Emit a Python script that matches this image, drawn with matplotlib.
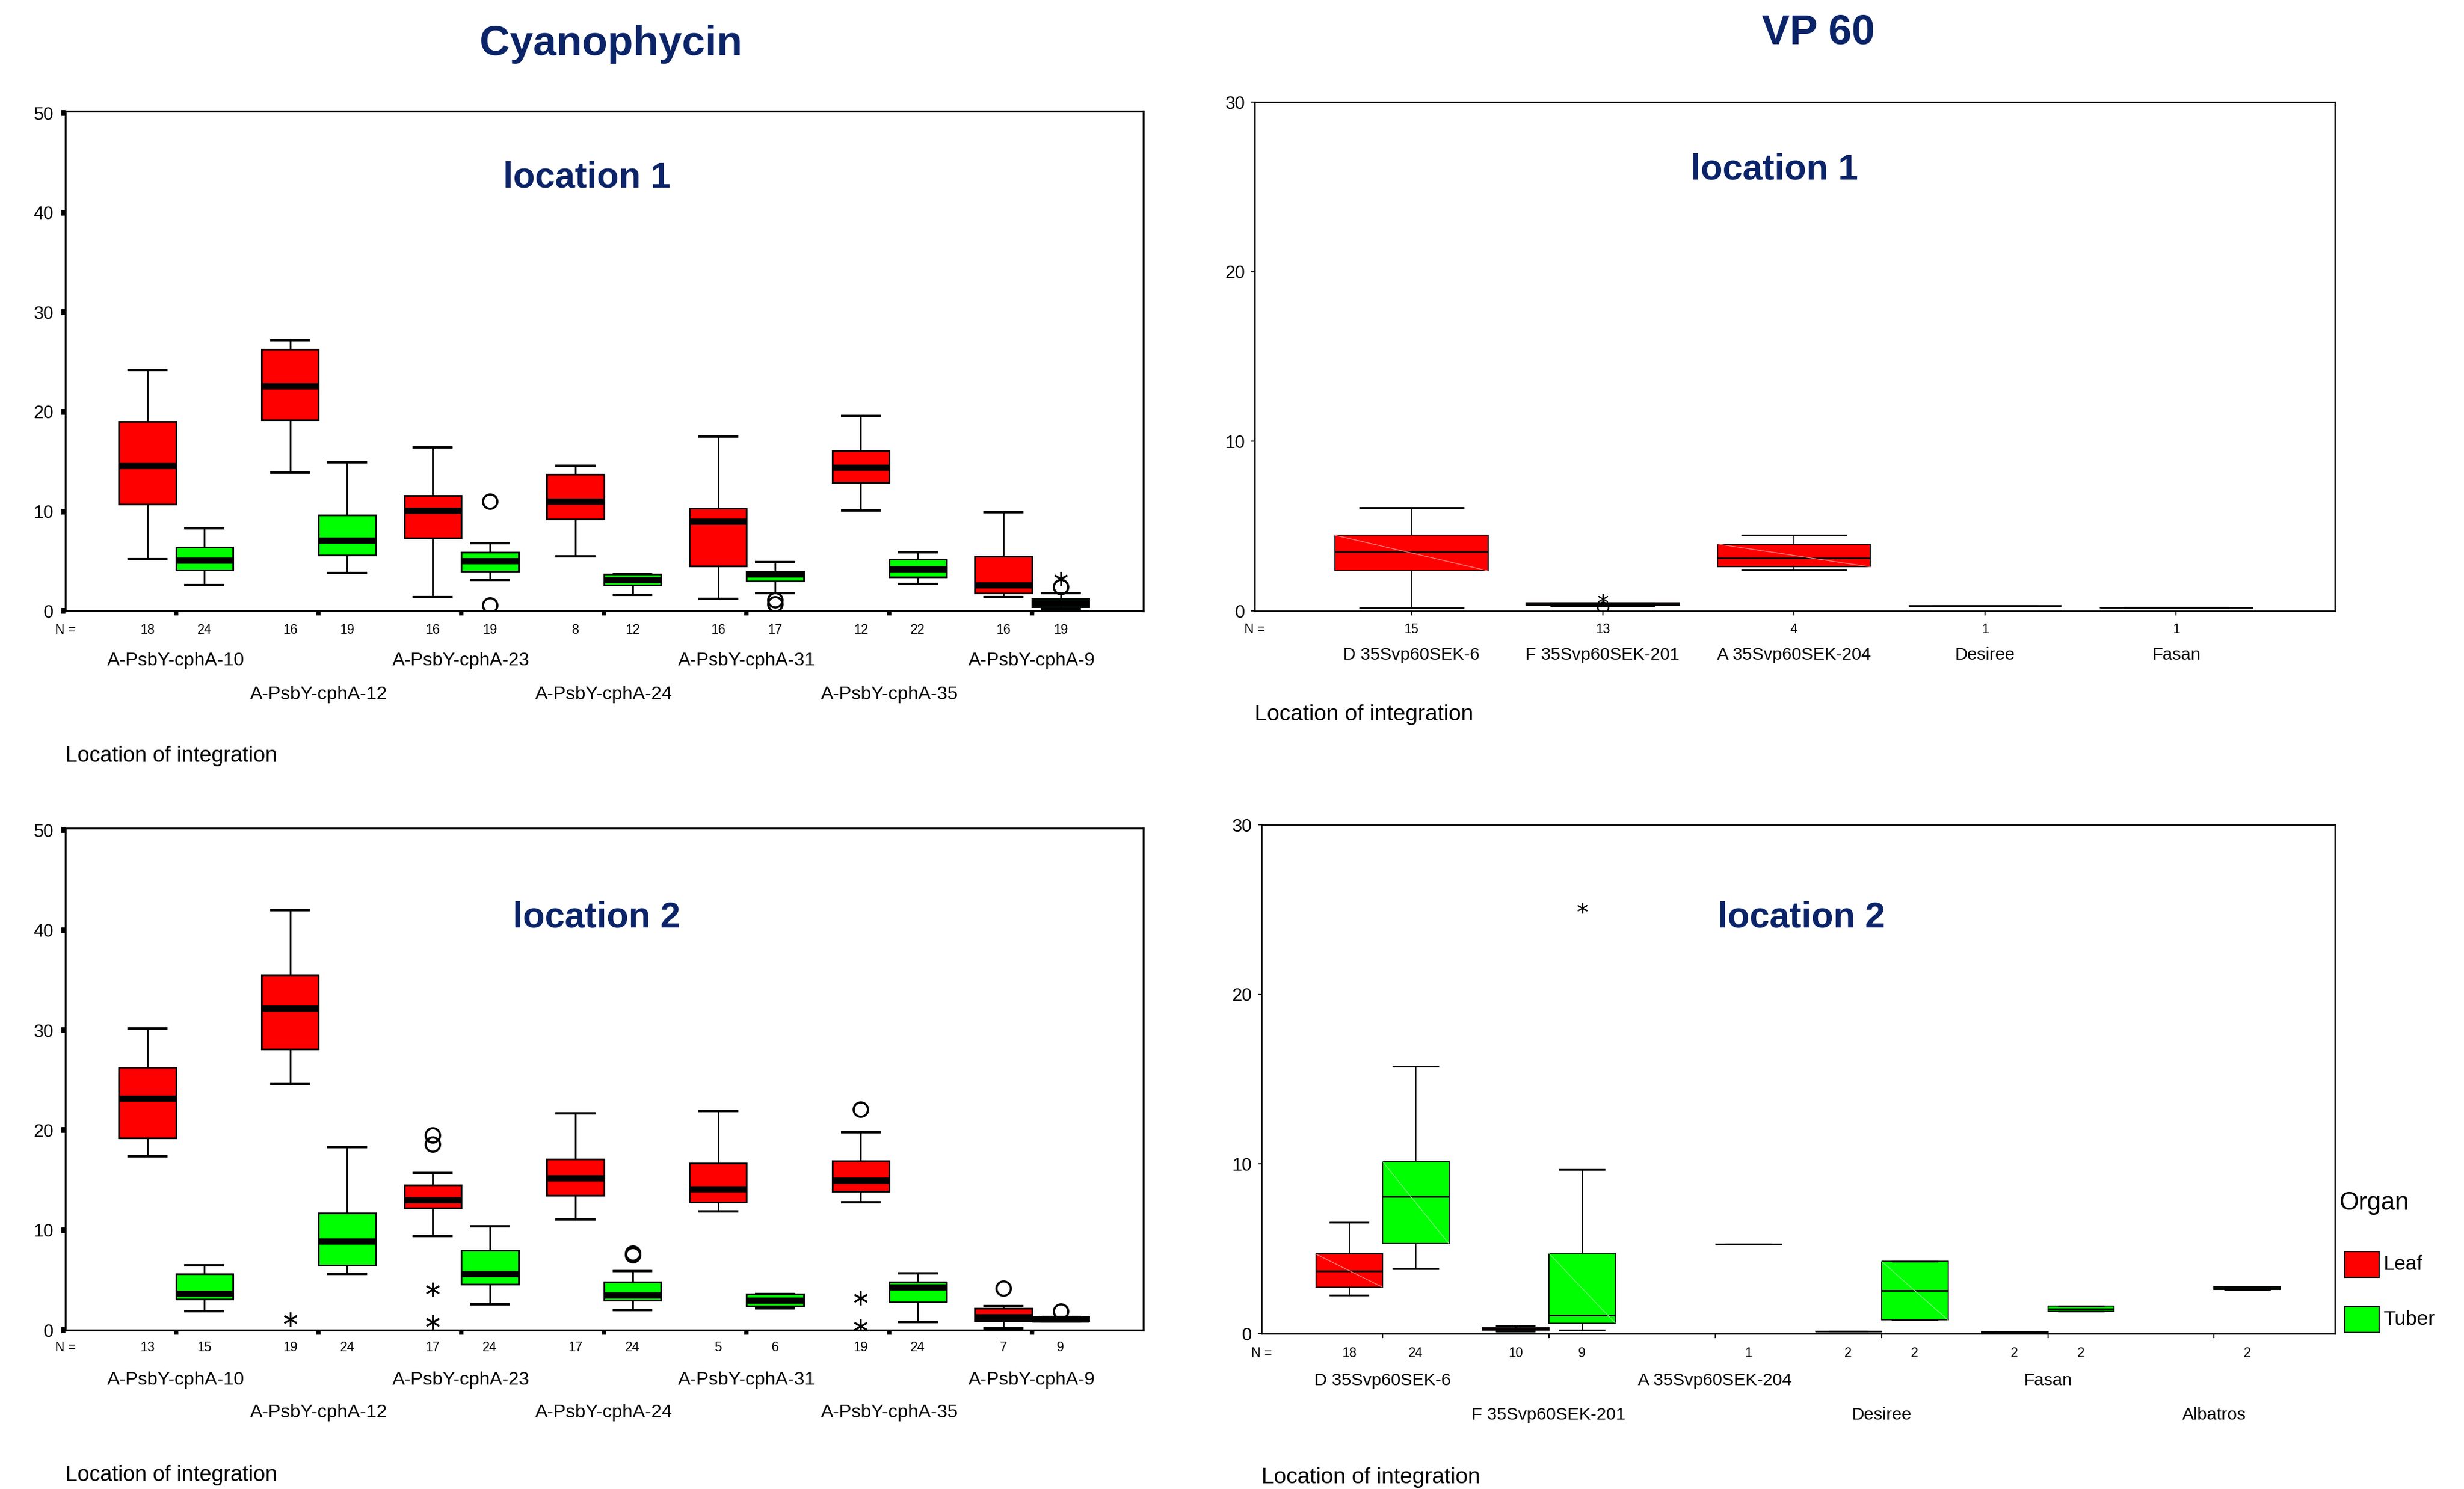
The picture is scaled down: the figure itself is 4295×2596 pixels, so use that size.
"""
Cyanophycin / VP 60 box plots per location of integration (Leaf vs Tuber)
"""
import matplotlib.pyplot as plt
from matplotlib.patches import Rectangle

plt.rcParams['font.family'] = ['Liberation Sans', 'DejaVu Sans']

LEAF = '#ff0000'
TUBER = '#00ff00'
NAVY = '#0b2468'

# ---- Cyanophycin, values per box: [whisker low, Q1, median, Q3, whisker high]
cph_lines = ['A-PsbY-cphA-10', 'A-PsbY-cphA-12', 'A-PsbY-cphA-23', 'A-PsbY-cphA-24',
             'A-PsbY-cphA-31', 'A-PsbY-cphA-35', 'A-PsbY-cphA-9']

cph1_leaf = [[5.2, 10.7, 14.6, 19.0, 24.2], [13.9, 19.2, 22.6, 26.3, 27.2],
             [1.4, 7.3, 10.1, 11.6, 16.4], [5.5, 9.2, 11.0, 13.7, 14.6],
             [1.2, 4.5, 9.0, 10.3, 17.5], [10.1, 12.9, 14.4, 16.1, 19.6],
             [1.4, 1.8, 2.6, 5.5, 9.9]]
cph1_tuber = [[2.6, 4.1, 5.1, 6.4, 8.3], [3.8, 5.6, 7.1, 9.6, 14.9],
              [3.1, 4.0, 5.0, 5.9, 6.8], [1.6, 2.6, 3.1, 3.7, 3.7],
              [1.8, 3.0, 3.7, 4.0, 4.9], [2.7, 3.4, 4.2, 5.2, 5.9],
              [0.2, 0.4, 0.8, 1.2, 1.8]]
cph1_leaf_n = [18, 16, 16, 8, 16, 12, 16]
cph1_tuber_n = [24, 19, 19, 12, 17, 22, 19]
cph1_leaf_circles = {}
cph1_leaf_stars = {}
cph1_tuber_circles = {2: [11.0, 0.6], 4: [1.1, 0.7], 6: [2.4]}
cph1_tuber_stars = {6: [3.2]}

cph2_leaf = [[17.4, 19.2, 23.2, 26.3, 30.2], [24.6, 28.1, 32.2, 35.5, 42.0],
             [9.4, 12.2, 13.0, 14.5, 15.7], [11.1, 13.5, 15.2, 17.1, 21.7],
             [11.9, 12.8, 14.1, 16.7, 21.9], [12.8, 13.9, 15.0, 16.9, 19.8],
             [0.2, 0.9, 1.3, 2.2, 2.4]]
cph2_tuber = [[1.9, 3.1, 3.7, 5.6, 6.5], [5.6, 6.5, 8.9, 11.7, 18.3],
              [2.6, 4.6, 5.6, 8.0, 10.4], [2.0, 3.0, 3.5, 4.8, 5.9],
              [2.2, 2.4, 3.0, 3.6, 3.6], [0.8, 2.8, 4.3, 4.8, 5.7],
              [0.85, 0.9, 1.1, 1.3, 1.3]]
cph2_leaf_n = [13, 19, 17, 17, 5, 19, 7]
cph2_tuber_n = [15, 24, 24, 24, 6, 24, 9]
cph2_leaf_circles = {2: [19.5, 18.6], 5: [22.1], 6: [4.2]}
cph2_leaf_stars = {1: [1.1], 2: [4.1, 0.8], 5: [3.2, 0.4]}
cph2_tuber_circles = {3: [7.5, 7.7], 6: [1.9]}
cph2_tuber_stars = {}

# ---- VP 60
vp1_lines = ['D 35Svp60SEK-6', 'F 35Svp60SEK-201', 'A 35Svp60SEK-204', 'Desiree', 'Fasan']
vp1_leaf = [[0.16, 2.36, 3.5, 4.46, 6.1], [0.3, 0.34, 0.42, 0.47, 0.47],
            [2.44, 2.59, 3.1, 3.94, 4.48], [0.31, 0.31, 0.31, 0.31, 0.31],
            [0.21, 0.21, 0.21, 0.21, 0.21]]
vp1_leaf_n = [15, 13, 4, 1, 1]
vp1_leaf_circles = {1: [0.2]}
vp1_leaf_stars = {1: [0.7]}

vp2_lines = ['D 35Svp60SEK-6', 'F 35Svp60SEK-201', 'A 35Svp60SEK-204', 'Desiree', 'Fasan', 'Albatros']
vp2_leaf = [[2.27, 2.74, 3.69, 4.69, 6.56], [0.12, 0.2, 0.28, 0.35, 0.49], None,
            [0.12, 0.12, 0.12, 0.12, 0.12], [0.03, 0.03, 0.06, 0.09, 0.09], None]
vp2_tuber = [[3.82, 5.3, 8.1, 10.16, 15.76], [0.2, 0.62, 1.09, 4.74, 9.69],
             [5.27, 5.27, 5.27, 5.27, 5.27], [0.8, 0.8, 2.53, 4.27, 4.27],
             [1.33, 1.33, 1.46, 1.61, 1.61], [2.61, 2.61, 2.69, 2.77, 2.77]]
vp2_leaf_n = [18, 10, None, 2, 2, None]
vp2_tuber_n = [24, 9, 1, 2, 2, 2]
vp2_tuber_stars = {1: [25.1]}


def add_boxes(ax, stats, pos, color, width, capw, lw, med_lw, circles, stars, msize, shade=None):
    keep = [i for i, s in enumerate(stats) if s is not None]
    bstats = []
    for i in keep:
        lo, q1, med, q3, hi = stats[i]
        bstats.append(dict(whislo=lo, q1=q1, med=med, q3=q3, whishi=hi,
                           fliers=circles.get(i, [])))
    ax.bxp(bstats, positions=[pos[i] for i in keep], widths=width, capwidths=capw,
           patch_artist=True, manage_ticks=False,
           boxprops=dict(facecolor=color, edgecolor='black', linewidth=lw),
           whiskerprops=dict(color='black', linewidth=lw, solid_capstyle='butt'),
           capprops=dict(color='black', linewidth=lw + 0.3, solid_capstyle='butt'),
           medianprops=dict(color='black', linewidth=med_lw, solid_capstyle='butt'),
           flierprops=dict(marker='o', markerfacecolor='none', markeredgecolor='black',
                           markersize=msize, markeredgewidth=lw + 0.2))
    for i, vals in stars.items():
        ax.plot([pos[i]] * len(vals), vals, linestyle='none', marker=(6, 2, 0),
                color='black', markersize=msize, markeredgewidth=lw)
    if shade:
        # faint diagonal that the original renderer left inside each box
        for i in keep:
            lo, q1, med, q3, hi = stats[i]
            if q3 - q1 > 0.3:
                ax.plot([pos[i] - width / 2, pos[i] + width / 2], [q3, q1],
                        color=shade, lw=0.3, zorder=3)


def n_labels(ax, pos, ns, y, size):
    tr = ax.get_xaxis_transform()
    for p, n in zip(pos, ns):
        if n is not None:
            ax.text(p, y, str(n), transform=tr, ha='center', va='center', fontsize=size)


def cph_panel(ax, leaf, tuber, leaf_n, tuber_n, lc, ls, tc, ts, title, title_xy, ys):
    x = list(range(1, len(cph_lines) + 1))
    xl = [v - 0.2 for v in x]
    xt = [v + 0.2 for v in x]
    add_boxes(ax, leaf, xl, LEAF, 0.4, 0.28, 0.7, 2.6, lc, ls, 6)
    add_boxes(ax, tuber, xt, TUBER, 0.4, 0.28, 0.7, 2.6, tc, ts, 6)
    ax.set_xticks(x)
    ax.set_xticklabels([])
    ax.set_yticks([0, 10, 20, 30, 40, 50])
    ax.set_xlim(0.226, 7.78)
    ax.set_ylim(0, 50.2)
    ax.tick_params(axis='x', length=2, width=1.8)
    ax.tick_params(axis='y', length=1.8, width=2.4, labelsize=7.5, pad=3.2)
    for sp in ax.spines.values():
        sp.set_linewidth(0.8)
    ax.text(title_xy[0], title_xy[1], title, transform=ax.transAxes, ha='center',
            va='center', fontsize=15, fontweight='bold', color=NAVY)
    tr = ax.get_xaxis_transform()
    ax.text(0, ys[0], 'N =', transform=ax.transAxes, ha='center', va='center', fontsize=5.5)
    n_labels(ax, xl, leaf_n, ys[0], 5.5)
    n_labels(ax, xt, tuber_n, ys[0], 5.5)
    for i, name in enumerate(cph_lines):
        ax.text(x[i], ys[1] if i % 2 == 0 else ys[2], name, transform=tr,
                ha='center', va='center', fontsize=7.8)
    ax.text(0, ys[3], 'Location of integration', transform=ax.transAxes,
            ha='left', va='center', fontsize=9)


def vp_style(ax, ngroups, xlim, title, title_xy):
    ax.set_xticks(range(1, ngroups + 1))
    ax.set_xticklabels([])
    ax.set_yticks([0, 10, 20, 30])
    ax.set_xlim(*xlim)
    ax.set_ylim(0, 30)
    ax.tick_params(axis='x', length=2, width=0.5)
    ax.tick_params(axis='y', length=1.4, width=0.5, labelsize=7.5, pad=2.6)
    for sp in ax.spines.values():
        sp.set_linewidth(0.6)
    ax.text(title_xy[0], title_xy[1], title, transform=ax.transAxes, ha='center',
            va='center', fontsize=15, fontweight='bold', color=NAVY)


fig = plt.figure(figsize=(4295 / 300, 2596 / 300), dpi=300)

ax_tl = fig.add_axes([0.02654, 0.58975, 0.43749, 0.33552])
ax_bl = fig.add_axes([0.02654, 0.10670, 0.43749, 0.33706])
ax_tr = fig.add_axes([0.50920, 0.58975, 0.43842, 0.34168])
ax_br = fig.add_axes([0.51199, 0.10439, 0.43563, 0.34168])

cph_panel(ax_tl, cph1_leaf, cph1_tuber, cph1_leaf_n, cph1_tuber_n,
          cph1_leaf_circles, cph1_leaf_stars, cph1_tuber_circles, cph1_tuber_stars,
          'location 1', (0.484, 0.867), (-0.038, -0.100, -0.168, -0.291))
cph_panel(ax_bl, cph2_leaf, cph2_tuber, cph2_leaf_n, cph2_tuber_n,
          cph2_leaf_circles, cph2_leaf_stars, cph2_tuber_circles, cph2_tuber_stars,
          'location 2', (0.493, 0.822), (-0.035, -0.099, -0.165, -0.289))

# VP 60 location 1 (leaf only, centred on each line)
x1 = list(range(1, len(vp1_lines) + 1))
add_boxes(ax_tr, vp1_leaf, x1, LEAF, 0.8, 0.55, 0.45, 0.7,
          vp1_leaf_circles, vp1_leaf_stars, 4.5, shade='#ff8a8a')
vp_style(ax_tr, len(vp1_lines), (0.18, 5.83), 'location 1', (0.481, 0.867))
ax_tr.text(0, -0.037, 'N =', transform=ax_tr.transAxes, ha='center', va='center', fontsize=5.5)
n_labels(ax_tr, x1, vp1_leaf_n, -0.037, 5.5)
for i, name in enumerate(vp1_lines):
    ax_tr.text(x1[i], -0.087, name, transform=ax_tr.get_xaxis_transform(),
               ha='center', va='center', fontsize=7.3)
ax_tr.text(0, -0.204, 'Location of integration', transform=ax_tr.transAxes,
           ha='left', va='center', fontsize=9.3)

# VP 60 location 2
x2 = list(range(1, len(vp2_lines) + 1))
x2l = [v - 0.2 for v in x2]
x2t = [v + 0.2 for v in x2]
add_boxes(ax_br, vp2_leaf, x2l, LEAF, 0.4, 0.24, 0.45, 0.7, {}, {}, 4.5, shade='#ff8a8a')
add_boxes(ax_br, vp2_tuber, x2t, TUBER, 0.4, 0.28, 0.45, 0.7, {}, vp2_tuber_stars, 4.5,
          shade='#7dff7d')
vp_style(ax_br, len(vp2_lines), (0.274, 6.726), 'location 2', (0.503, 0.817))
ax_br.text(0, -0.039, 'N =', transform=ax_br.transAxes, ha='center', va='center', fontsize=5.5)
n_labels(ax_br, x2l, vp2_leaf_n, -0.039, 5.5)
n_labels(ax_br, x2t, vp2_tuber_n, -0.039, 5.5)
for i, name in enumerate(vp2_lines):
    ax_br.text(x2[i], -0.092 if i % 2 == 0 else -0.160, name,
               transform=ax_br.get_xaxis_transform(), ha='center', va='center', fontsize=7.3)
ax_br.text(0, -0.283, 'Location of integration', transform=ax_br.transAxes,
           ha='left', va='center', fontsize=9.3)

# headings
fig.text(0.248, 0.9703, 'Cyanophycin', ha='center', va='center', fontsize=17.5,
         fontweight='bold', color=NAVY)
fig.text(0.738, 0.978, 'VP 60', ha='center', va='center', fontsize=17.5,
         fontweight='bold', color=NAVY)

# legend
fig.text(0.9495, 0.1922, 'Organ', ha='left', va='center', fontsize=10.5)
for yb, col, lab in [(0.14214, LEAF, 'Leaf'), (0.10516, TUBER, 'Tuber')]:
    fig.add_artist(Rectangle((0.95157, yb), 0.01397, 0.01733, transform=fig.transFigure,
                             facecolor=col, edgecolor='black', linewidth=0.5))
    fig.text(0.96717, yb + 0.00866, lab, ha='left', va='center', fontsize=8.4)

fig.savefig('out.png', dpi=300)
